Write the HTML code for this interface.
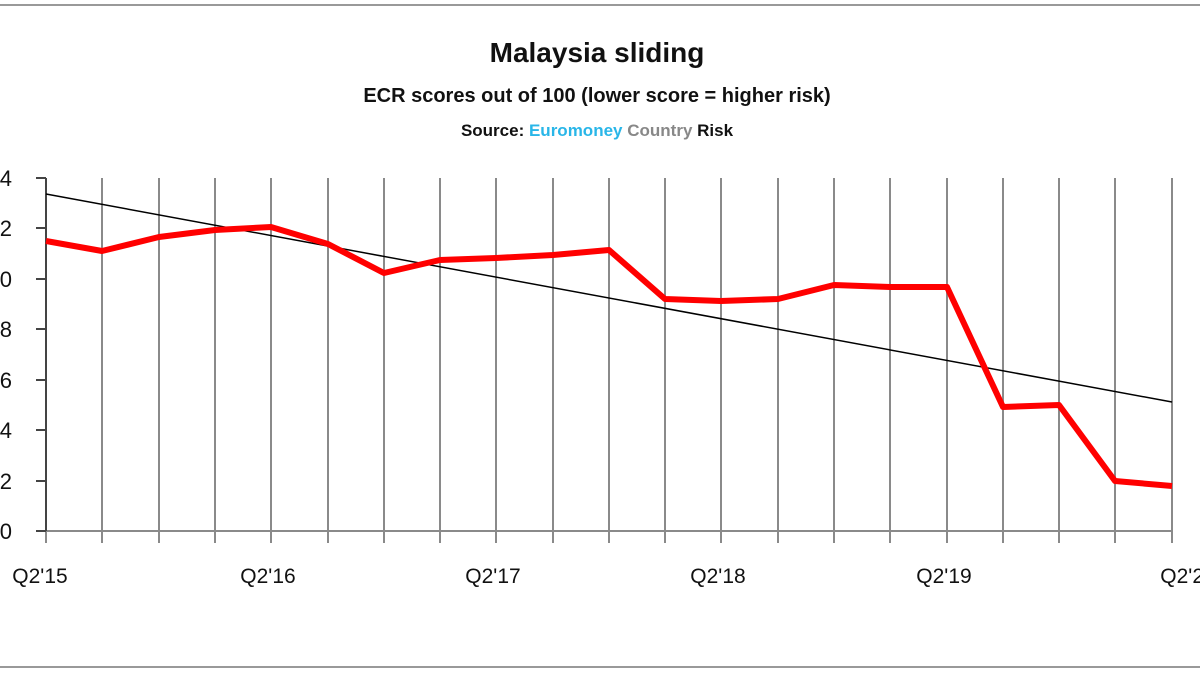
<!DOCTYPE html>
<html><head><meta charset="utf-8"><style>
html,body{margin:0;padding:0;background:#fff;width:1200px;height:675px;overflow:hidden}
svg{display:block}
text{font-family:"Liberation Sans",sans-serif;fill:#111}
</style></head><body>
<svg width="1200" height="675" viewBox="0 0 1200 675">
<line x1="0" y1="5" x2="1200" y2="5" stroke="#999" stroke-width="2"/>
<line x1="0" y1="667" x2="1200" y2="667" stroke="#999" stroke-width="2"/>
<text x="597" y="62" text-anchor="middle" font-size="28" font-weight="bold">Malaysia sliding</text>
<text x="597" y="102" text-anchor="middle" font-size="20" font-weight="bold">ECR scores out of 100 (lower score = higher risk)</text>
<text x="597" y="136" text-anchor="middle" font-size="17" font-weight="bold">Source: <tspan style="fill:#29b6e8">Euromoney</tspan> <tspan style="fill:#888">Country</tspan> Risk</text>
<g stroke="#8a8a8a" stroke-width="2">
<line x1="102" y1="178" x2="102" y2="543"/><line x1="159" y1="178" x2="159" y2="543"/><line x1="215" y1="178" x2="215" y2="543"/><line x1="271" y1="178" x2="271" y2="543"/><line x1="328" y1="178" x2="328" y2="543"/><line x1="384" y1="178" x2="384" y2="543"/><line x1="440" y1="178" x2="440" y2="543"/><line x1="496" y1="178" x2="496" y2="543"/><line x1="553" y1="178" x2="553" y2="543"/><line x1="609" y1="178" x2="609" y2="543"/><line x1="665" y1="178" x2="665" y2="543"/><line x1="721" y1="178" x2="721" y2="543"/><line x1="778" y1="178" x2="778" y2="543"/><line x1="834" y1="178" x2="834" y2="543"/><line x1="890" y1="178" x2="890" y2="543"/><line x1="947" y1="178" x2="947" y2="543"/><line x1="1003" y1="178" x2="1003" y2="543"/><line x1="1059" y1="178" x2="1059" y2="543"/><line x1="1115" y1="178" x2="1115" y2="543"/><line x1="1172" y1="178" x2="1172" y2="543"/>
<line x1="46" y1="531" x2="1172" y2="531"/>
<line x1="46" y1="531" x2="46" y2="543"/>
</g>
<g stroke="#444" stroke-width="2">
<line x1="46" y1="178" x2="46" y2="531"/>
<line x1="36" y1="178" x2="46" y2="178"/><line x1="36" y1="228" x2="46" y2="228"/><line x1="36" y1="279" x2="46" y2="279"/><line x1="36" y1="329" x2="46" y2="329"/><line x1="36" y1="380" x2="46" y2="380"/><line x1="36" y1="430" x2="46" y2="430"/><line x1="36" y1="481" x2="46" y2="481"/><line x1="36" y1="531" x2="46" y2="531"/>
</g>
<g font-size="22" text-anchor="end">
<text x="12" y="186">74</text><text x="12" y="236">72</text><text x="12" y="287">70</text><text x="12" y="337">68</text><text x="12" y="388">66</text><text x="12" y="438">64</text><text x="12" y="489">62</text><text x="12" y="539">60</text>
</g>
<g font-size="21" text-anchor="middle">
<text x="40" y="583">Q2'15</text><text x="268" y="583">Q2'16</text><text x="493" y="583">Q2'17</text><text x="718" y="583">Q2'18</text><text x="944" y="583">Q2'19</text><text x="1188" y="583">Q2'20</text>
</g>
<line x1="46" y1="194" x2="1172" y2="402" stroke="#000" stroke-width="1.5"/>
<polyline fill="none" stroke="#f00" stroke-width="6" stroke-linejoin="round" points="46,241 102,251 159,237 215,230 271,227 328,244 384,273 440,260 496,258 553,255 609,250 665,299 721,301 778,299 834,285 890,287 947,287 1003,407 1059,405 1115,481 1172,486"/>
</svg>
</body></html>
